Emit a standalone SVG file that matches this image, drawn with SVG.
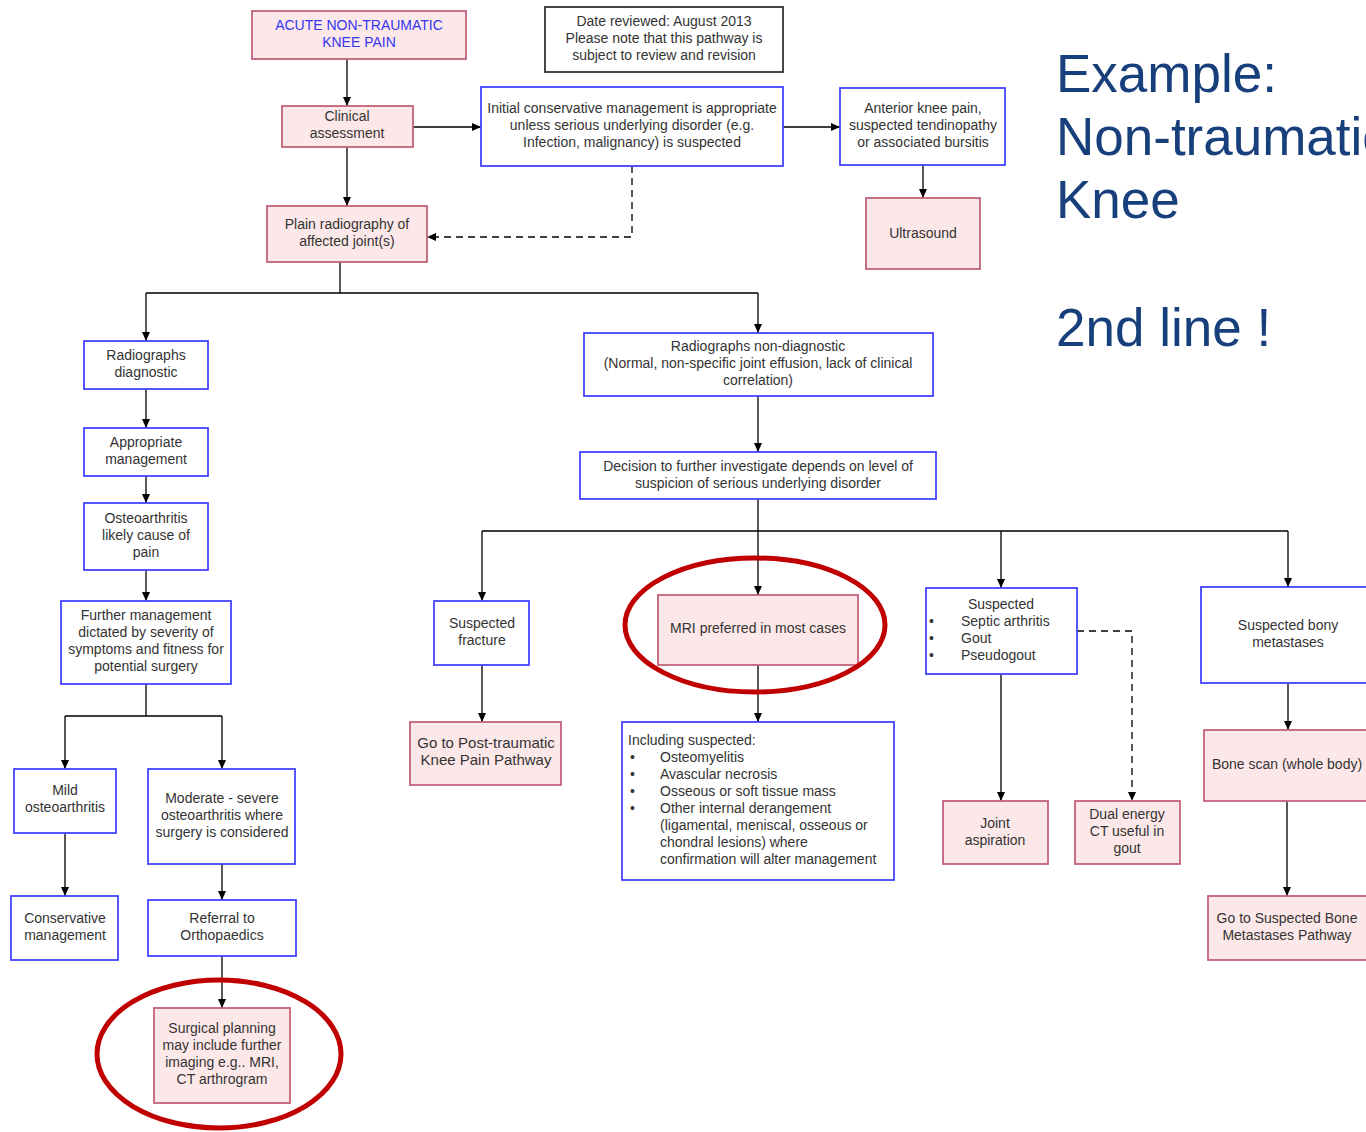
<svg xmlns="http://www.w3.org/2000/svg" width="1366" height="1132" viewBox="0 0 1366 1132">
<defs>
<marker id="ah" markerWidth="10" markerHeight="10" refX="9" refY="5" orient="auto" markerUnits="userSpaceOnUse">
<path d="M0,1 L9,5 L0,9 Z" fill="#000"/>
</marker>
<style>
.pk{fill:#fde8e9;stroke:#c4627a;stroke-width:1.8}
.bl{fill:#fff;stroke:#4343ff;stroke-width:1.8}
.gr{fill:#fff;stroke:#333;stroke-width:1.8}
text{font-family:"Liberation Sans",Arial,sans-serif;font-size:14px;fill:#333}
.c{text-anchor:middle}
.ttl{fill:#3535f0;font-size:14px}
.big{font-size:53px;fill:#173f7c}
.ln{fill:none;stroke:#000;stroke-width:1.3}
.ar{marker-end:url(#ah)}
.ds{stroke-dasharray:7,5}
.ring{fill:none;stroke:#c00000;stroke-width:5}
</style>
</defs>
<rect width="1366" height="1132" fill="#fff"/>

<g id="connectors">
<path class="ln ar" d="M347,59 V106"/>
<path class="ln ar" d="M347,147 V206"/>
<path class="ln ar" d="M413,127 H481"/>
<path class="ln ar" d="M783,127 H840"/>
<path class="ln ar" d="M923,165 V198"/>
<path class="ln ar ds" d="M632,166 V237 H427"/>
<path class="ln" d="M340,262 V293 M146,293 H758"/>
<path class="ln ar" d="M146,293 V341"/>
<path class="ln ar" d="M758,293 V333"/>
<path class="ln ar" d="M146,389 V428"/>
<path class="ln ar" d="M146,476 V503"/>
<path class="ln ar" d="M146,570 V601"/>
<path class="ln" d="M146,684 V716 M65,716 H222"/>
<path class="ln ar" d="M65,716 V769"/>
<path class="ln ar" d="M222,716 V769"/>
<path class="ln ar" d="M65,833 V896"/>
<path class="ln ar" d="M222,864 V900"/>
<path class="ln ar" d="M222,956 V1008"/>
<path class="ln ar" d="M758,396 V452"/>
<path class="ln" d="M758,499 V531 M482,531 H1288"/>
<path class="ln ar" d="M482,531 V601"/>
<path class="ln ar" d="M758,531 V595"/>
<path class="ln ar" d="M1001,531 V588"/>
<path class="ln ar" d="M1288,531 V587"/>
<path class="ln ar" d="M482,665 V722"/>
<path class="ln ar" d="M758,665 V722"/>
<path class="ln ar" d="M1001,674 V801"/>
<path class="ln ar ds" d="M1077,631 H1132 V801"/>
<path class="ln ar" d="M1288,683 V730"/>
<path class="ln ar" d="M1287,801 V896"/>
</g>

<g id="n1"><rect class="pk" x="252" y="11" width="214" height="48"/>
<text class="c ttl" x="359" y="30">ACUTE NON-TRAUMATIC</text><text class="c ttl" x="359" y="47">KNEE PAIN</text></g>
<g id="n2"><rect class="gr" x="545" y="7" width="238" height="65"/>
<text class="c" x="664" y="26">Date reviewed: August 2013</text><text class="c" x="664" y="43">Please note that this pathway is</text><text class="c" x="664" y="60">subject to review and revision</text></g>
<g id="n3"><rect class="pk" x="282" y="106" width="131" height="41"/>
<text class="c" x="347" y="121">Clinical</text><text class="c" x="347" y="138">assessment</text></g>
<g id="n4"><rect class="bl" x="481" y="87" width="302" height="79"/>
<text class="c" x="632" y="113">Initial conservative management is appropriate</text><text class="c" x="632" y="130">unless serious underlying disorder (e.g.</text><text class="c" x="632" y="147">Infection, malignancy) is suspected</text></g>
<g id="n5"><rect class="bl" x="840" y="88" width="165" height="77"/>
<text class="c" x="923" y="113">Anterior knee pain,</text><text class="c" x="923" y="130">suspected tendinopathy</text><text class="c" x="923" y="147">or associated bursitis</text></g>
<g id="n6"><rect class="pk" x="866" y="198" width="114" height="71"/>
<text class="c" x="923" y="238">Ultrasound</text></g>
<g id="n7"><rect class="pk" x="267" y="206" width="160" height="56"/>
<text class="c" x="347" y="229">Plain radiography of</text><text class="c" x="347" y="246">affected joint(s)</text></g>
<g id="n8"><rect class="bl" x="84" y="341" width="124" height="48"/>
<text class="c" x="146" y="360">Radiographs</text><text class="c" x="146" y="377">diagnostic</text></g>
<g id="n9"><rect class="bl" x="84" y="428" width="124" height="48"/>
<text class="c" x="146" y="447">Appropriate</text><text class="c" x="146" y="464">management</text></g>
<g id="n10"><rect class="bl" x="84" y="503" width="124" height="67"/>
<text class="c" x="146" y="523">Osteoarthritis</text><text class="c" x="146" y="540">likely cause of</text><text class="c" x="146" y="557">pain</text></g>
<g id="n11"><rect class="bl" x="61" y="601" width="170" height="83"/>
<text class="c" x="146" y="620">Further management</text><text class="c" x="146" y="637">dictated by severity of</text><text class="c" x="146" y="654">symptoms and fitness for</text><text class="c" x="146" y="671">potential surgery</text></g>
<g id="n12"><rect class="bl" x="14" y="769" width="102" height="64"/>
<text class="c" x="65" y="795">Mild</text><text class="c" x="65" y="812">osteoarthritis</text></g>
<g id="n13"><rect class="bl" x="148" y="769" width="147" height="95"/>
<text class="c" x="222" y="803">Moderate - severe</text><text class="c" x="222" y="820">osteoarthritis where</text><text class="c" x="222" y="837">surgery is considered</text></g>
<g id="n14"><rect class="bl" x="11" y="896" width="107" height="64"/>
<text class="c" x="65" y="923">Conservative</text><text class="c" x="65" y="940">management</text></g>
<g id="n15"><rect class="bl" x="148" y="900" width="148" height="56"/>
<text class="c" x="222" y="923">Referral to</text><text class="c" x="222" y="940">Orthopaedics</text></g>
<g id="n16"><rect class="pk" x="154" y="1008" width="136" height="95"/>
<text class="c" x="222" y="1033">Surgical planning</text><text class="c" x="222" y="1050">may include further</text><text class="c" x="222" y="1067">imaging e.g.. MRI,</text><text class="c" x="222" y="1084">CT arthrogram</text></g>
<g id="n17"><rect class="bl" x="584" y="333" width="349" height="63"/>
<text class="c" x="758" y="351">Radiographs non-diagnostic</text><text class="c" x="758" y="368">(Normal, non-specific joint effusion, lack of clinical</text><text class="c" x="758" y="385">correlation)</text></g>
<g id="n18"><rect class="bl" x="580" y="452" width="356" height="47"/>
<text class="c" x="758" y="471">Decision to further investigate depends on level of</text><text class="c" x="758" y="488">suspicion of serious underlying disorder</text></g>
<g id="n19"><rect class="bl" x="434" y="601" width="95" height="64"/>
<text class="c" x="482" y="628">Suspected</text><text class="c" x="482" y="645">fracture</text></g>
<g id="n20"><rect class="pk" x="410" y="722" width="151" height="63"/>
<text class="c" x="486" y="748" style="font-size:15px">Go to Post-traumatic</text><text class="c" x="486" y="765" style="font-size:15px">Knee Pain Pathway</text></g>
<g id="n21"><rect class="pk" x="658" y="595" width="200" height="70"/>
<text class="c" x="758" y="633">MRI preferred in most cases</text></g>
<g id="n22"><rect class="bl" x="622" y="722" width="272" height="158"/>
<text x="628" y="745">Including suspected:</text>
<text x="630" y="762">•</text><text x="660" y="762">Osteomyelitis</text>
<text x="630" y="779">•</text><text x="660" y="779">Avascular necrosis</text>
<text x="630" y="796">•</text><text x="660" y="796">Osseous or soft tissue mass</text>
<text x="630" y="813">•</text><text x="660" y="813">Other internal derangement</text>
<text x="660" y="830">(ligamental, meniscal, osseous or</text>
<text x="660" y="847">chondral lesions) where</text>
<text x="660" y="864">confirmation will alter management</text></g>
<g id="n23"><rect class="bl" x="926" y="588" width="151" height="86"/>
<text class="c" x="1001" y="609">Suspected</text>
<text x="929" y="626">•</text><text x="961" y="626">Septic arthritis</text>
<text x="929" y="643">•</text><text x="961" y="643">Gout</text>
<text x="929" y="660">•</text><text x="961" y="660">Pseudogout</text></g>
<g id="n24"><rect class="pk" x="943" y="801" width="105" height="63"/>
<text class="c" x="995" y="828">Joint</text><text class="c" x="995" y="845">aspiration</text></g>
<g id="n25"><rect class="pk" x="1075" y="801" width="105" height="63"/>
<text class="c" x="1127" y="819">Dual energy</text><text class="c" x="1127" y="836">CT useful in</text><text class="c" x="1127" y="853">gout</text></g>
<g id="n26"><rect class="bl" x="1201" y="587" width="174" height="96"/>
<text class="c" x="1288" y="630">Suspected bony</text><text class="c" x="1288" y="647">metastases</text></g>
<g id="n27"><rect class="pk" x="1204" y="730" width="171" height="71"/>
<text class="c" x="1287" y="769">Bone scan (whole body)</text></g>
<g id="n28"><rect class="pk" x="1208" y="896" width="167" height="64"/>
<text class="c" x="1287" y="923">Go to Suspected Bone</text><text class="c" x="1287" y="940">Metastases Pathway</text></g>

<g id="highlights">
<ellipse class="ring" cx="755" cy="625" rx="130" ry="67"/>
<ellipse class="ring" cx="219" cy="1054" rx="122" ry="74"/>
</g>

<g id="caption">
<text class="big" x="1056" y="92">Example:</text>
<text class="big" x="1056" y="155">Non-traumatic</text>
<text class="big" x="1056" y="218">Knee</text>
<text class="big" x="1056" y="346">2nd line !</text>
</g>
</svg>
